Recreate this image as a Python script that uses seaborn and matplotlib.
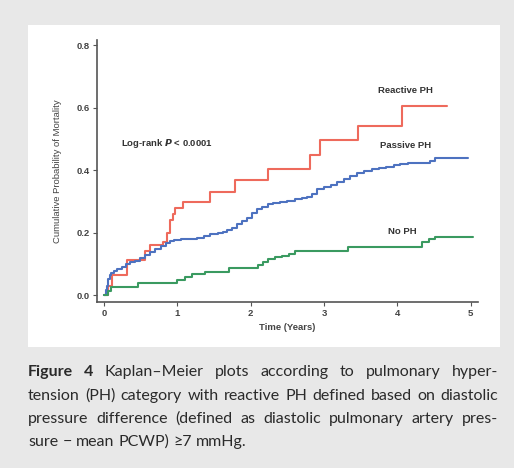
import matplotlib
matplotlib.use("Agg")
import matplotlib.pyplot as plt
import seaborn as sns
import pandas as pd
from matplotlib.patches import Rectangle

# ---- data ----
reactive_t = [0, 0.05, 0.11, 0.31, 0.56, 0.62, 0.81, 0.86, 0.90, 0.94, 0.97, 1.08, 1.45, 1.79, 2.24, 2.81, 2.95, 3.47, 4.07, 4.68]
reactive_p = [0, 0.03, 0.064, 0.112, 0.14, 0.16, 0.17, 0.20, 0.24, 0.26, 0.28, 0.298, 0.33, 0.368, 0.403, 0.448, 0.496, 0.54, 0.606, 0.606]

passive_t = [0, 0.02, 0.04, 0.06, 0.08, 0.1, 0.14, 0.18, 0.24, 0.3, 0.36, 0.42, 0.49, 0.56,
             0.63, 0.7, 0.77, 0.84, 0.9, 0.96, 1.05, 1.15, 1.27, 1.36, 1.45, 1.55, 1.62, 1.68,
             1.75, 1.82, 1.88, 1.95, 2.02, 2.09, 2.16, 2.23, 2.31, 2.4, 2.5, 2.6, 2.7, 2.77,
             2.84, 2.91, 3.0, 3.09, 3.18, 3.27, 3.36, 3.45, 3.55, 3.65, 3.75, 3.85, 3.95, 4.04,
             4.15, 4.25, 4.35, 4.45, 4.52, 4.96]
passive_p = [0, 0.015, 0.03, 0.05, 0.065, 0.072, 0.078, 0.084, 0.09, 0.1, 0.105, 0.11, 0.118, 0.128,
             0.138, 0.148, 0.158, 0.166, 0.172, 0.177, 0.18, 0.18, 0.182, 0.188, 0.194, 0.198, 0.203, 0.208,
             0.216, 0.226, 0.236, 0.246, 0.262, 0.275, 0.283, 0.29, 0.294, 0.298, 0.302, 0.306, 0.31, 0.314,
             0.325, 0.338, 0.346, 0.352, 0.362, 0.372, 0.382, 0.39, 0.396, 0.402, 0.406, 0.41, 0.416, 0.42,
             0.422, 0.423, 0.424, 0.43, 0.438, 0.438]

noph_t = [0, 0.05, 0.1, 0.46, 1.0, 1.1, 1.2, 1.38, 1.7, 2.1, 2.17, 2.24, 2.33, 2.43, 2.52, 2.61, 3.33, 4.34, 4.43, 4.52, 5.03]
noph_p = [0, 0.012, 0.026, 0.038, 0.048, 0.058, 0.066, 0.074, 0.086, 0.096, 0.106, 0.114, 0.122, 0.126, 0.132, 0.14, 0.154, 0.17, 0.178, 0.186, 0.186]

groups = ["Reactive PH", "Passive PH", "No PH"]
colors = ["#ee6a5c", "#4d72c0", "#3a9a60"]
x_ticks = [0, 1, 2, 3, 4, 5]
y_ticks = [0.0, 0.2, 0.4, 0.6, 0.8]

df = pd.concat([
    pd.DataFrame({"time": reactive_t, "prob": reactive_p, "group": groups[0]}),
    pd.DataFrame({"time": passive_t, "prob": passive_p, "group": groups[1]}),
    pd.DataFrame({"time": noph_t, "prob": noph_p, "group": groups[2]}),
], ignore_index=True)

sns.set_theme(style="white")
plt.rcParams["font.family"] = ["Liberation Sans", "DejaVu Sans"]

W, H = 514, 468
fig = plt.figure(figsize=(W / 100, H / 100), dpi=100)
fig.patch.set_facecolor("#e8e8e8")
fig.patches.append(Rectangle((28 / W, 1 - 347 / H), (500 - 28) / W, (347 - 25) / H,
                             transform=fig.transFigure, facecolor="white", edgecolor="none", zorder=-5))

ax = fig.add_axes([97 / W, 1 - 302 / H, (478 - 97) / W, (302 - 40) / H])
ax.set_zorder(2)
ax.set_facecolor("none")
sns.lineplot(data=df, x="time", y="prob", hue="group", hue_order=groups,
             palette=dict(zip(groups, colors)), estimator=None, sort=False,
             drawstyle="steps-post", linewidth=1.5, legend=False, ax=ax)

ax.set_xlim(-0.096, 5.1)
ax.set_ylim(-0.022, 0.816)
ax.set_xticks(x_ticks)
ax.set_xticklabels([str(v) for v in x_ticks])
ax.set_yticks(y_ticks)
ax.set_yticklabels([f"{v:.1f}" for v in y_ticks])
for s in ["top", "right"]:
    ax.spines[s].set_visible(False)
for s in ["left", "bottom"]:
    ax.spines[s].set_color("#555555")
    ax.spines[s].set_linewidth(1.2)
ax.tick_params(axis="both", direction="out", length=3, width=0.8, color="#555555",
               labelsize=6.8, labelcolor="#444444", pad=2, left=True, bottom=True)
for lab in ax.get_xticklabels() + ax.get_yticklabels():
    lab.set_fontweight("bold")
ax.set_xlabel("Time (Years)", fontsize=6.8, fontweight="bold", color="#444444", labelpad=4)
ax.set_ylabel("Cumulative Probability of Mortality", fontsize=6.8, color="#444444", labelpad=11)

tk = dict(fontsize=6.8, fontweight="bold", color="#333333", ha="center", va="center")
ax.text(4.11, 0.653, "Reactive PH", **tk)
ax.text(4.11, 0.477, "Passive PH", **tk)
ax.text(4.07, 0.205, "No PH", **tk)
ax.text(0.86, 0.486, r"Log-rank $\boldsymbol{P}$ < 0.0001", **tk)

# ---- caption, justified ----
cap_family = ["Lato", "DejaVu Sans"]
cap_size = 11.5
lines = [
    [("Figure", "bold"), ("4", "bold"), ("Kaplan–Meier", "normal"), ("plots", "normal"), ("according", "normal"),
     ("to", "normal"), ("pulmonary", "normal"), ("hyper-", "normal")],
    [(w, "normal") for w in "tension (PH) category with reactive PH defined based on diastolic".split()],
    [(w, "normal") for w in "pressure difference (defined as diastolic pulmonary artery pres-".split()],
    [(w, "normal") for w in "sure − mean PCWP) ≥7 mmHg.".split()],
]
ys = [372, 396, 419, 442]
x0, x1 = 28, 498
fig.canvas.draw()
renderer = fig.canvas.get_renderer()
for li, (words, yp) in enumerate(zip(lines, ys)):
    texts = []
    widths = []
    for w, wt in words:
        t = fig.text(0, 1 - yp / H, w, fontsize=cap_size, fontweight=wt, family=cap_family,
                     color="#2a2a2a", ha="left", va="center")
        texts.append(t)
        widths.append(t.get_window_extent(renderer).width)
    if li < len(lines) - 1:
        gap = (x1 - x0 - sum(widths)) / (len(words) - 1)
    else:
        sp = fig.text(0, 0, "a b", fontsize=cap_size, family=cap_family)
        spw = sp.get_window_extent(renderer).width
        sp2 = fig.text(0, 0, "ab", fontsize=cap_size, family=cap_family)
        gap = spw - sp2.get_window_extent(renderer).width
        sp.remove(); sp2.remove()
    xp = x0
    for t, wdt in zip(texts, widths):
        t.set_x(xp / W)
        xp += wdt + gap

fig.savefig("out.png", dpi=100, facecolor=fig.get_facecolor())
